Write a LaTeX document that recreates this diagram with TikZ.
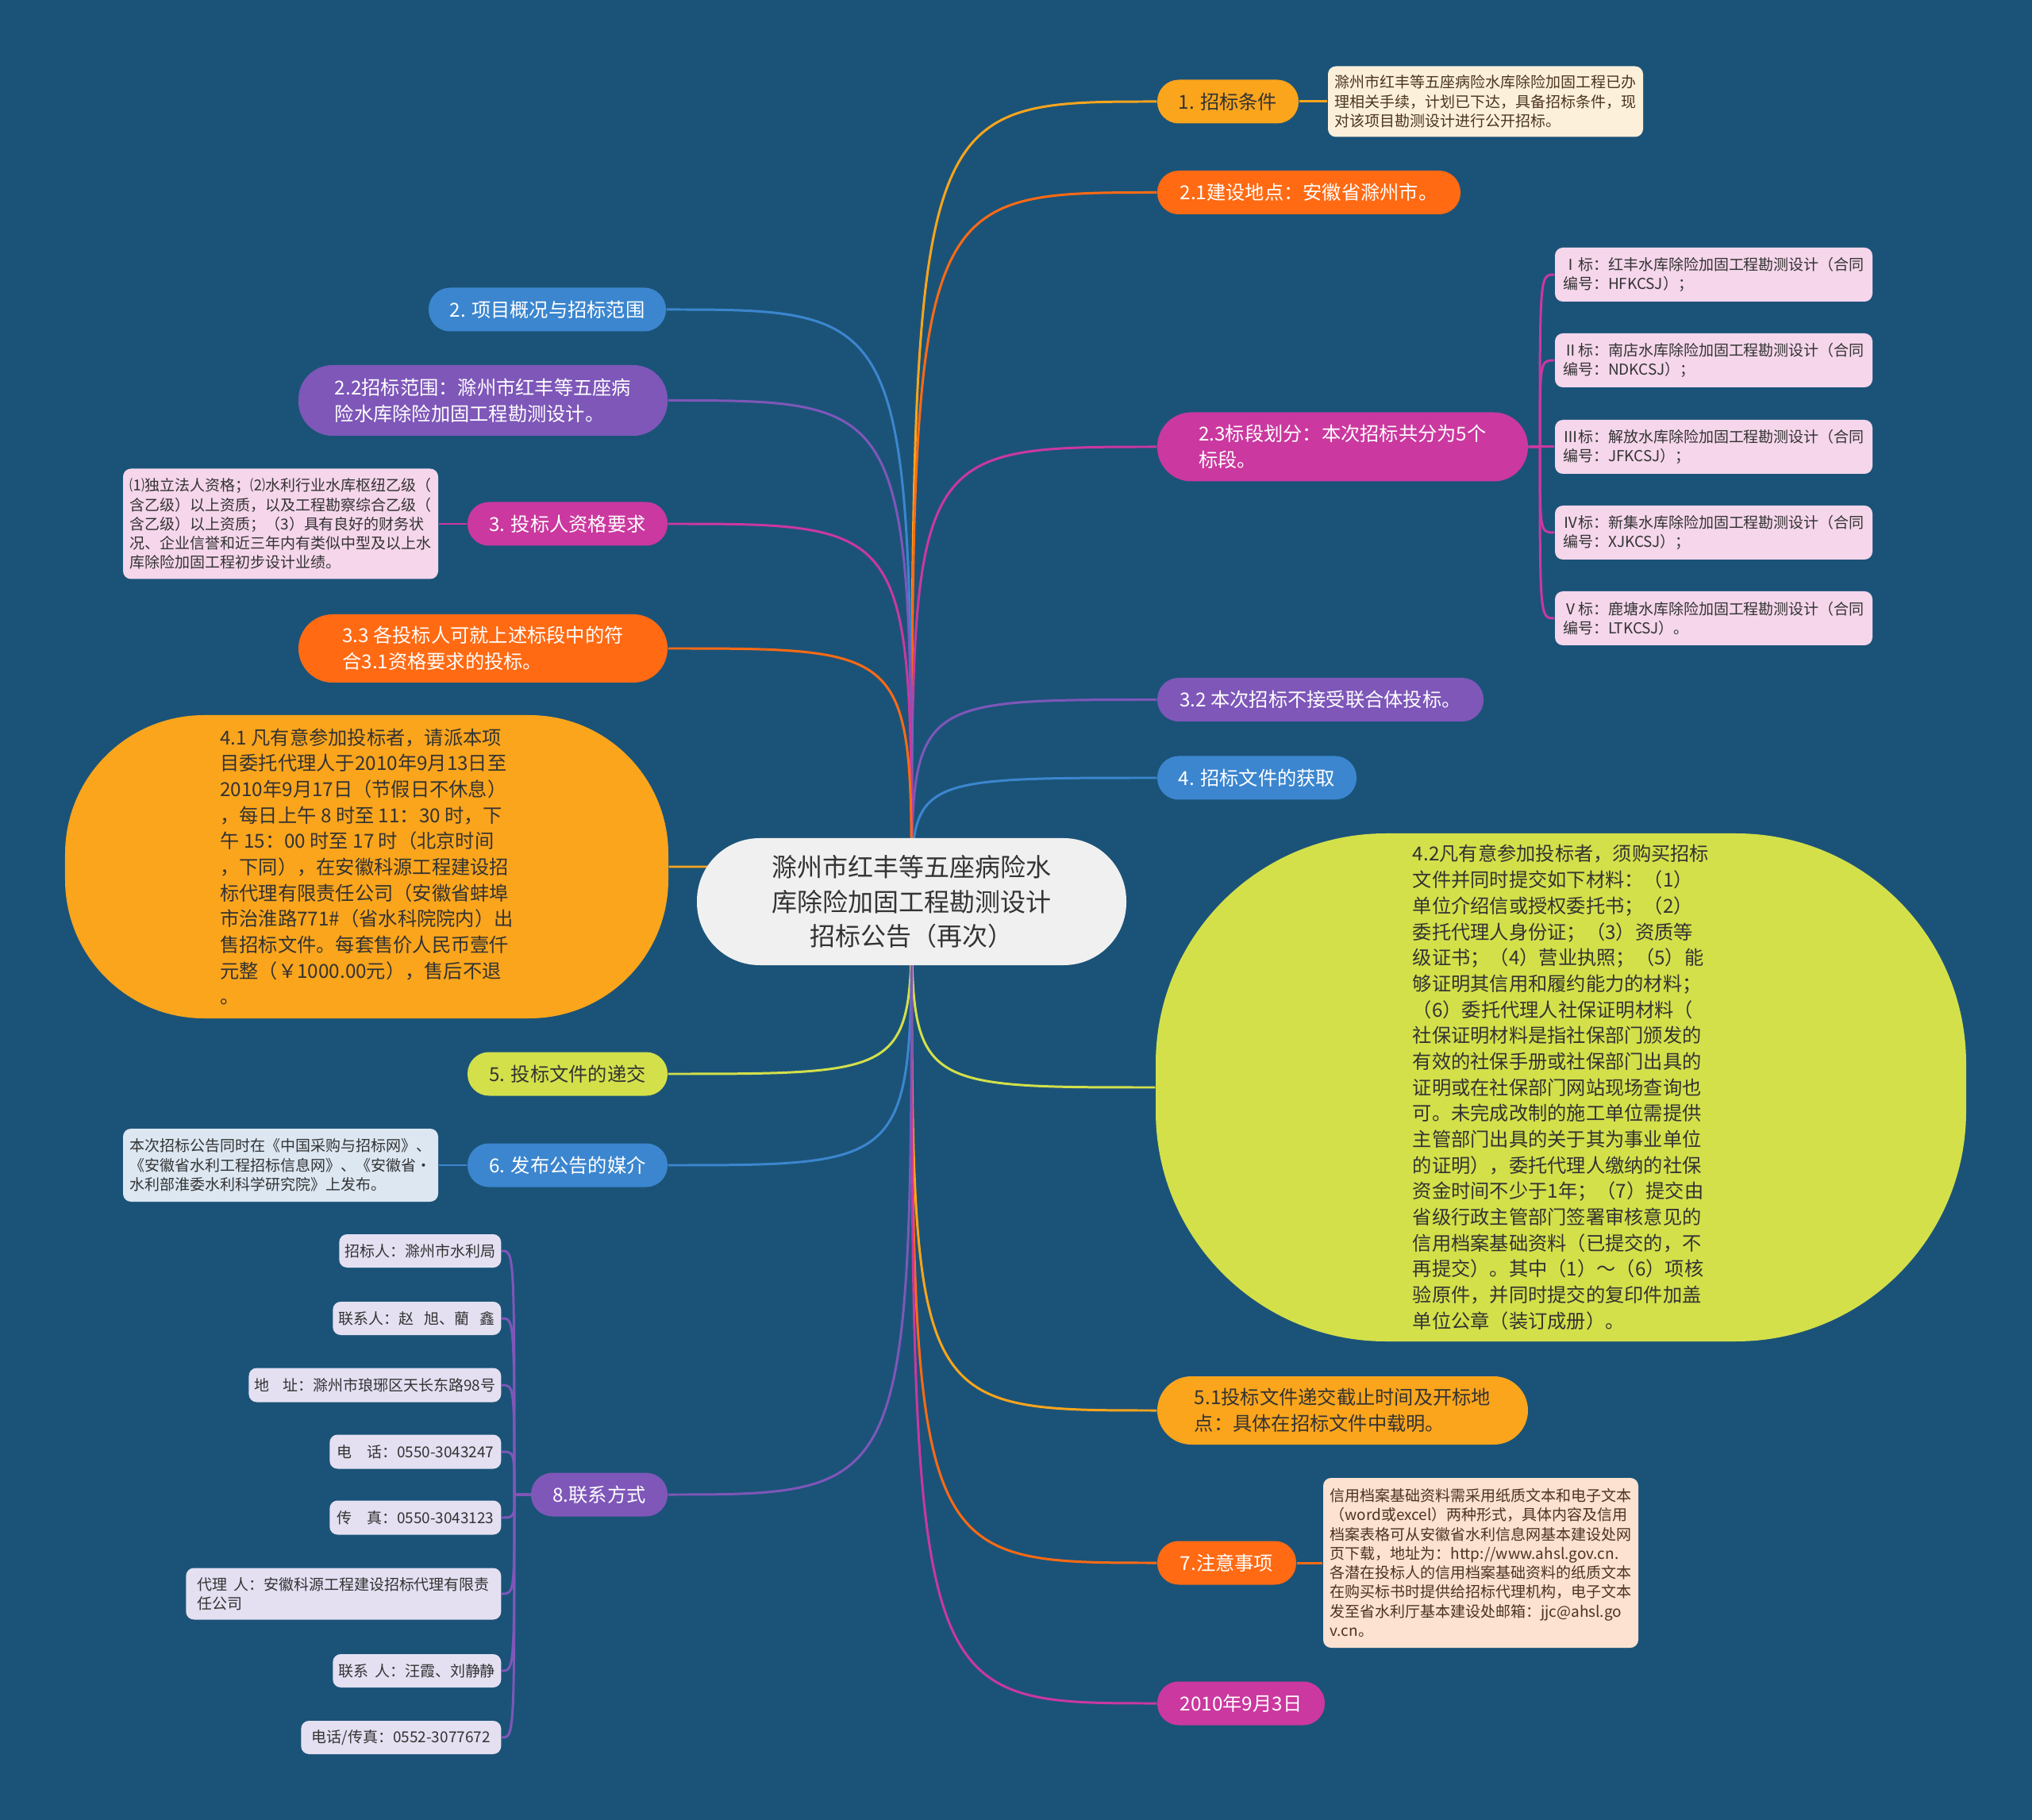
\documentclass[tikz,border=0pt]{standalone}
\usepackage{fontspec}
\setmainfont{Noto Sans CJK SC}
\pgfdeclarelayer{bg}
\pgfsetlayers{bg,main}
\definecolor{bgc}{HTML}{1B5378}
\definecolor{cOr}{HTML}{FAA51C}
\definecolor{cRd}{HTML}{FF6A13}
\definecolor{cMg}{HTML}{CB389F}
\definecolor{cPu}{HTML}{7E57B9}
\definecolor{cBl}{HTML}{3C86CF}
\definecolor{cLm}{HTML}{D3E04A}
\definecolor{cCt}{HTML}{F0F0F0}
\definecolor{lCr}{HTML}{FDF0DA}
\definecolor{lPk}{HTML}{F5D6EB}
\definecolor{lBl}{HTML}{DCE7F2}
\definecolor{lPe}{HTML}{FDE1D1}
\definecolor{lLv}{HTML}{E4E0F2}
\definecolor{tDk}{HTML}{333333}
\definecolor{tBr}{HTML}{4A3520}
\begin{document}
\begin{tikzpicture}[x=1cm,y=-1cm,
  every node/.style={inner sep=0pt},
  bt/.style={font=\fontsize{6.9pt}{9.3pt}\selectfont},
  br/.style={rectangle, bt, align=left, minimum height=0.55cm, rounded corners=0.27cm},
  brtwo/.style={rectangle, bt, align=left, minimum height=0.87cm, rounded corners=0.43cm},
  leaf/.style={rectangle, rounded corners=0.1cm, align=left, inner xsep=0.07cm,
    font=\fontsize{5.4pt}{6.9pt}\selectfont, text=tDk},
  ln/.style={line width=0.85pt}]
\useasboundingbox (0,0) rectangle (25.6,22.93);

% centre
\node[rectangle, fill=cCt, minimum width=5.41cm, minimum height=1.60cm, rounded corners=0.79cm,
  align=center, font=\fontsize{9.1pt}{12.5pt}\selectfont, text=tDk] (ctr) at (11.485,11.36)
  {滁州市红丰等五座病险水\\库除险加固工程勘测设计\\招标公告（再次）};

% right side
\node[br, fill=cOr, text=tDk, minimum width=1.78cm] (n1) at (15.47,1.28) {1. 招标条件};
\node[leaf, fill=lCr, text=tBr, minimum width=3.97cm, minimum height=0.89cm] (l1) at (18.715,1.28)
  {滁州市红丰等五座病险水库除险加固工程已办\\理相关手续，计划已下达，具备招标条件，现\\对该项目勘测设计进行公开招标。};
\node[br, fill=cRd, text=white, minimum width=3.82cm] (n21) at (16.49,2.425) {2.1建设地点：安徽省滁州市。};
\node[brtwo, fill=cMg, text=white, minimum width=4.67cm] (n23) at (16.915,5.63) {2.3标段划分：本次招标共分为5个\\标段。};
\node[leaf, fill=lPk, minimum width=4.00cm, minimum height=0.68cm] (t1) at (21.59,3.46) {Ⅰ标：红丰水库除险加固工程勘测设计（合同\\编号：HFKCSJ）；};
\node[leaf, fill=lPk, minimum width=4.00cm, minimum height=0.68cm] (t2) at (21.59,4.54) {Ⅱ标：南店水库除险加固工程勘测设计（合同\\编号：NDKCSJ）；};
\node[leaf, fill=lPk, minimum width=4.00cm, minimum height=0.68cm] (t3) at (21.59,5.63) {Ⅲ标：解放水库除险加固工程勘测设计（合同\\编号：JFKCSJ）；};
\node[leaf, fill=lPk, minimum width=4.00cm, minimum height=0.68cm] (t4) at (21.59,6.71) {Ⅳ标：新集水库除险加固工程勘测设计（合同\\编号：XJKCSJ）；};
\node[leaf, fill=lPk, minimum width=4.00cm, minimum height=0.68cm] (t5) at (21.59,7.79) {Ⅴ标：鹿塘水库除险加固工程勘测设计（合同\\编号：LTKCSJ）。};
\node[br, fill=cPu, text=white, minimum width=4.11cm] (n32) at (16.635,8.815) {3.2 本次招标不接受联合体投标。};
\node[br, fill=cBl, text=white, minimum width=2.51cm] (n4) at (15.835,9.80) {4. 招标文件的获取};
\node[rectangle, bt, align=left, fill=cLm, text=tDk, minimum width=10.21cm, minimum height=6.40cm,
  rounded corners=2.9cm] (n42) at (19.665,13.70)
  {4.2凡有意参加投标者，须购买招标\\文件并同时提交如下材料：（1）\\单位介绍信或授权委托书；（2）\\委托代理人身份证；（3）资质等\\级证书；（4）营业执照；（5）能\\够证明其信用和履约能力的材料；\\（6）委托代理人社保证明材料（\\社保证明材料是指社保部门颁发的\\有效的社保手册或社保部门出具的\\证明或在社保部门网站现场查询也\\可。未完成改制的施工单位需提供\\主管部门出具的关于其为事业单位\\的证明），委托代理人缴纳的社保\\资金时间不少于1年；（7）提交由\\省级行政主管部门签署审核意见的\\信用档案基础资料（已提交的，不\\再提交）。其中（1）～（6）项核\\验原件，并同时提交的复印件加盖\\单位公章（装订成册）。};
\node[brtwo, fill=cOr, text=tDk, minimum width=4.67cm, minimum height=0.86cm] (n51) at (16.915,17.77) {5.1投标文件递交截止时间及开标地\\点：具体在招标文件中载明。};
\node[br, fill=cRd, text=white, minimum width=1.75cm] (n7) at (15.455,19.69) {7.注意事项};
\node[leaf, fill=lPe, text=tBr, minimum width=3.97cm, minimum height=2.14cm] (l7) at (18.655,19.69)
  {信用档案基础资料需采用纸质文本和电子文本\\（word或excel）两种形式，具体内容及信用\\档案表格可从安徽省水利信息网基本建设处网\\页下载，地址为：http://www.ahsl.gov.cn.\\各潜在投标人的信用档案基础资料的纸质文本\\在购买标书时提供给招标代理机构，电子文本\\发至省水利厅基本建设处邮箱：jjc@ahsl.go\\v.cn。};
\node[br, fill=cMg, text=white, minimum width=2.11cm] (n2010) at (15.635,21.46) {2010年9月3日};

% left side
\node[br, fill=cBl, text=white, minimum width=2.99cm] (n2) at (6.895,3.90) {2. 项目概况与招标范围};
\node[brtwo, fill=cPu, text=white, minimum width=4.65cm, minimum height=0.89cm] (n22) at (6.085,5.045) {2.2招标范围：滁州市红丰等五座病\\险水库除险加固工程勘测设计。};
\node[br, fill=cMg, text=white, minimum width=2.52cm] (n3) at (7.15,6.60) {3. 投标人资格要求};
\node[leaf, fill=lPk, minimum width=3.97cm, minimum height=1.39cm] (l3) at (3.535,6.60)
  {⑴独立法人资格；⑵水利行业水库枢纽乙级（\\含乙级）以上资质，以及工程勘察综合乙级（\\含乙级）以上资质；（3）具有良好的财务状\\况、企业信誉和近三年内有类似中型及以上水\\库除险加固工程初步设计业绩。};
\node[brtwo, fill=cRd, text=white, minimum width=4.65cm, minimum height=0.86cm] (n33) at (6.085,8.17) {3.3 各投标人可就上述标段中的符\\合3.1资格要求的投标。};
\node[rectangle, bt, align=left, fill=cOr, text=tDk, minimum width=7.60cm, minimum height=3.82cm,
  rounded corners=1.75cm] (n41) at (4.62,10.92)
  {4.1 凡有意参加投标者，请派本项\\目委托代理人于2010年9月13日至\\2010年9月17日（节假日不休息）\\，每日上午 8 时至 11：30 时，下\\午 15：00 时至 17 时（北京时间\\，下同），在安徽科源工程建设招\\标代理有限责任公司（安徽省蚌埠\\市治淮路771\#（省水科院院内）出\\售招标文件。每套售价人民币壹仟\\元整（￥1000.00元），售后不退\\。};
\node[br, fill=cLm, text=tDk, minimum width=2.52cm] (n5) at (7.15,13.53) {5. 投标文件的递交};
\node[br, fill=cBl, text=white, minimum width=2.52cm] (n6) at (7.15,14.68) {6. 发布公告的媒介};
\node[leaf, fill=lBl, minimum width=3.97cm, minimum height=0.92cm] (l6) at (3.535,14.68)
  {本次招标公告同时在《中国采购与招标网》、\\《安徽省水利工程招标信息网》、《安徽省•\\水利部淮委水利科学研究院》上发布。};
\node[br, fill=cPu, text=white, minimum width=1.72cm] (n8) at (7.55,18.83) {8.联系方式};
\node[leaf, fill=lLv, anchor=east, minimum width=2.04cm, minimum height=0.42cm] (c1) at (6.32,15.76) {招标人：滁州市水利局};
\node[leaf, fill=lLv, anchor=east, minimum width=2.12cm, minimum height=0.42cm] (c2) at (6.32,16.61) {联系人：赵\hspace{0.7em}旭、藺\hspace{0.7em}鑫};
\node[leaf, fill=lLv, anchor=east, minimum width=3.17cm, minimum height=0.43cm] (c3) at (6.32,17.45) {地\hspace{0.9em}址：滁州市琅琊区天长东路98号};
\node[leaf, fill=lLv, anchor=east, minimum width=2.16cm, minimum height=0.43cm] (c4) at (6.32,18.29) {电\hspace{1em}话：0550-3043247};
\node[leaf, fill=lLv, anchor=east, minimum width=2.16cm, minimum height=0.43cm] (c5) at (6.32,19.12) {传\hspace{1em}真：0550-3043123};
\node[leaf, fill=lLv, anchor=east, minimum width=3.97cm, minimum height=0.65cm] (c6) at (6.32,20.08) {代理\hspace{0.4em}人：安徽科源工程建设招标代理有限责\\任公司};
\node[leaf, fill=lLv, anchor=east, minimum width=2.12cm, minimum height=0.42cm] (c7) at (6.32,21.05) {联系\hspace{0.4em}人：汪霞、刘静静};
\node[leaf, fill=lLv, anchor=east, minimum width=2.52cm, minimum height=0.42cm] (c8) at (6.32,21.89) {电话/传真：0552-3077672};

% connectors and background
\begin{pgfonlayer}{bg}
\fill[bgc] (0,0) rectangle (25.6,22.93);
\foreach \nn/\cc in {n1/cOr, n21/cRd, n23/cMg, n32/cPu, n4/cBl, n42/cLm, n51/cOr, n7/cRd, n2010/cMg}
  \draw[ln, draw=\cc] (ctr.center) .. controls (ctr.center |- \nn.west) .. (\nn.west);
\foreach \nn/\cc in {n2/cBl, n22/cPu, n3/cMg, n33/cRd, n41/cOr, n5/cLm, n6/cBl, n8/cPu}
  \draw[ln, draw=\cc] (ctr.center) .. controls (ctr.center |- \nn.east) .. (\nn.east);
\draw[ln, cOr] (n1.east) -- (l1.west);
\draw[ln, cMg] (n3.west) -- (l3.east);
\draw[ln, cBl] (n6.west) -- (l6.east);
\draw[ln, cRd] (n7.east) -- (l7.west);
\coordinate (b23) at (19.40,5.63);
\foreach \xx in {t1,t2,t3,t4,t5}
  \draw[ln, cMg] (n23.east) -- (b23) .. controls (b23 |- \xx.west) .. (\xx.west);
\coordinate (b8) at (6.48,18.83);
\foreach \xx in {c1,c2,c3,c4,c5,c6,c7,c8}
  \draw[ln, cPu] (n8.west) -- (b8) .. controls (b8 |- \xx.east) .. (\xx.east);
\end{pgfonlayer}
\end{tikzpicture}
\end{document}
